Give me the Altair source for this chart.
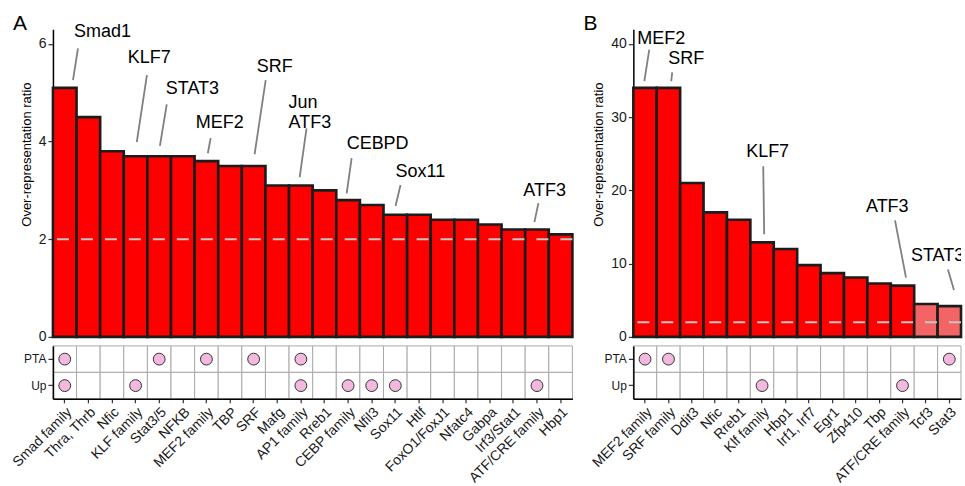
import altair as alt
import pandas as pd

# ---------------- data ----------------
cats_a = ["Smad family", "Thra, Thrb", "Nfic", "KLF family", "Stat3/5", "NFKB",
          "MEF2 family", "TBP", "SRF", "Mafg", "AP1 family", "Rreb1",
          "CEBP family", "Nfil3", "Sox11", "Htlf", "FoxO1/FoxJ1", "Nfatc4",
          "Gabpa", "Irf3/Stat1", "ATF/CRE family", "Hbp1"]
vals_a = [5.1, 4.5, 3.8, 3.7, 3.7, 3.7, 3.6, 3.5, 3.5, 3.1, 3.1, 3.0,
          2.8, 2.7, 2.5, 2.5, 2.4, 2.4, 2.3, 2.2, 2.2, 2.1]
sig_a = ["s"] * 22
pta_a = ["Smad family", "Stat3/5", "MEF2 family", "SRF", "AP1 family"]
up_a = ["Smad family", "KLF family", "AP1 family", "CEBP family", "Nfil3",
        "Sox11", "ATF/CRE family"]

cats_b = ["MEF2 family", "SRF family", "Ddit3", "Nfic", "Rreb1", "Klf family",
          "Hbp1", "Irf1, Irf7", "Egr1", "Zfp410", "Tbp", "ATF/CRE family",
          "Tcf3", "Stat3"]
vals_b = [34, 34, 21, 17, 16, 12.9, 12, 9.8, 8.7, 8.1, 7.3, 7.0, 4.5, 4.2]
sig_b = ["s"] * 12 + ["ns"] * 2
pta_b = ["MEF2 family", "SRF family", "Stat3"]
up_b = ["Klf family", "ATF/CRE family"]

rows = ["PTA", "Up"]
threshold = 2

# repelled labels (text anchor and leader segment, in data units: bar index / ratio)
lab_a_text = ["Smad1", "KLF7", "STAT3", "MEF2", "SRF", "Jun\nATF3", "CEBPD", "Sox11", "ATF3"]
lab_a_x = [0.39, 2.67, 4.28, 5.55, 8.13, 9.48, 11.94, 14.01, 19.42]
lab_a_y = [6.24, 5.71, 5.07, 4.38, 5.52, 4.79, 3.95, 3.37, 2.99]
seg_a_x1 = [0.56, 3.48, 4.32, 6.18, 8.51, 10.24, 12.15, 14.22, 20.06]
seg_a_y1 = [5.91, 5.36, 4.76, 4.07, 5.26, 4.27, 3.66, 3.11, 2.74]
seg_a_x2 = [0.35, 3.05, 4.03, 6.06, 8.04, 9.95, 11.94, 14.01, 19.89]
seg_a_y2 = [5.26, 3.99, 3.91, 3.76, 3.74, 3.27, 2.94, 2.68, 2.35]

lab_b_text = ["MEF2", "SRF", "KLF7", "ATF3", "STAT3"]
lab_b_x = [-0.33, 0.99, 4.32, 9.44, 11.36]
lab_b_y = [40.7, 37.9, 25.3, 17.8, 11.0]
seg_b_x1 = [0.18, 1.16, 5.05, 10.68, 12.94]
seg_b_y1 = [39.2, 36.1, 23.3, 15.9, 9.2]
seg_b_x2 = [-0.03, 1.12, 5.09, 11.15, 13.2]
seg_b_y2 = [34.9, 34.9, 14.0, 8.1, 6.4]

FONT = "Liberation Sans"


def panel(cats, vals, sig, pta, up, ymax, yticks, ltext, lx, ly, sx1, sy1, sx2, sy2,
          width, letter, letter_dx, clip_labels):
    n = len(cats)
    df = pd.DataFrame({"cat": cats, "val": vals, "sig": sig, "i": list(range(n))})
    df["x0"] = df["i"] - 0.5
    df["x1"] = df["i"] + 0.5
    df["base"] = 0.0
    xs = alt.Scale(domain=[-0.5, n - 0.5], nice=False, zero=False, padding=0)
    ys = alt.Scale(domain=[0, ymax], nice=False, padding=0)
    yaxis = alt.Axis(values=yticks, title="Over-representation ratio", grid=False,
                     tickSize=5, labelPadding=2, titlePadding=5, titleY=125,
                     labelFontSize=14)

    bars = alt.Chart(df).mark_rect(stroke="#1c1c1c", strokeWidth=2.6).encode(
        x=alt.X("x0:Q", scale=xs, axis=None),
        x2="x1:Q",
        y=alt.Y("val:Q", scale=ys, axis=yaxis),
        y2="base:Q",
        color=alt.Color("sig:N", scale=alt.Scale(domain=["s", "ns"],
                                                  range=["#ff0000", "#f36464"]),
                        legend=None),
    )
    rule = alt.Chart(pd.DataFrame({"t": [threshold]})).mark_rule(
        color="#c4c4c4", strokeDash=[12, 12], strokeWidth=2
    ).encode(y=alt.Y("t:Q", scale=ys, axis=yaxis))

    segs = pd.DataFrame({"x1": sx1, "y1": sy1, "x2": sx2, "y2": sy2})
    seg = alt.Chart(segs).mark_rule(color="#808080", strokeWidth=1.8).encode(
        x=alt.X("x1:Q", scale=xs, axis=None),
        y=alt.Y("y1:Q", scale=ys, axis=yaxis),
        x2="x2:Q", y2="y2:Q",
    )
    labs = pd.DataFrame({"t": ltext, "x": lx, "y": ly})
    txt = alt.Chart(labs).mark_text(
        align="left", baseline="middle", fontSize=18, font=FONT, color="#000000",
        lineBreak="\n", lineHeight=20, clip=clip_labels
    ).encode(
        x=alt.X("x:Q", scale=xs, axis=None),
        y=alt.Y("y:Q", scale=ys, axis=yaxis),
        text="t:N",
    )
    let = alt.Chart(pd.DataFrame({"t": [letter]})).mark_text(
        fontSize=21, font=FONT, align="center", baseline="middle", color="#000000"
    ).encode(x=alt.value(letter_dx), y=alt.value(-5), text="t:N")

    top = alt.layer(bars, rule, seg, txt, let).properties(width=width, height=308)

    cells = pd.DataFrame([(c, r) for r in rows for c in cats], columns=["cat", "row"])
    dots = pd.DataFrame([(c, "PTA") for c in pta] + [(c, "Up") for c in up],
                        columns=["cat", "row"])
    xb = alt.X("cat:N", sort=cats, scale=alt.Scale(paddingInner=0, paddingOuter=0),
               axis=alt.Axis(title=None, labelAngle=-45, labelAlign="right",
                             labelBaseline="top", tickSize=4, labelPadding=2,
                             labelFontSize=14))
    yb = alt.Y("row:N", sort=rows, scale=alt.Scale(paddingInner=0, paddingOuter=0),
               axis=alt.Axis(title=None, tickSize=5, labelPadding=2, labelFontSize=12))
    grid = alt.Chart(cells).mark_rect(fill="white", stroke="#a9a9a9",
                                      strokeWidth=1).encode(x=xb, y=yb)
    pts = alt.Chart(dots).mark_circle(size=140, color="#f2b8de", opacity=1,
                                      stroke="#333333", strokeWidth=1).encode(x=xb, y=yb)
    bottom = alt.layer(grid, pts).properties(width=width, height=53)
    return alt.vconcat(top, bottom, spacing=1)


colA = panel(cats_a, vals_a, sig_a, pta_a, up_a, 6.3, [0, 2, 4, 6],
             lab_a_text, lab_a_x, lab_a_y, seg_a_x1, seg_a_y1, seg_a_x2, seg_a_y2,
             520, "A", -33, False)
colB = panel(cats_b, vals_b, sig_b, pta_b, up_b, 42, [0, 10, 20, 30, 40],
             lab_b_text, lab_b_x, lab_b_y, seg_b_x1, seg_b_y1, seg_b_x2, seg_b_y2,
             328, "B", -43, True)

chart = alt.hconcat(colA, colB, spacing=8).properties(
    padding={"left": 9, "top": 13, "right": 2, "bottom": 2}
).configure_view(stroke=None).configure_axis(
    labelFont=FONT, titleFont=FONT, labelFontSize=13, titleFontSize=13,
    titleFontWeight="normal", labelColor="#1a1a1a", titleColor="#000000",
    domainColor="#000000", domainWidth=1.5, tickColor="#333333", tickWidth=1.2,
).configure_concat(spacing=8)

chart.save("out.html", embed_options={"renderer": "svg", "actions": False})
